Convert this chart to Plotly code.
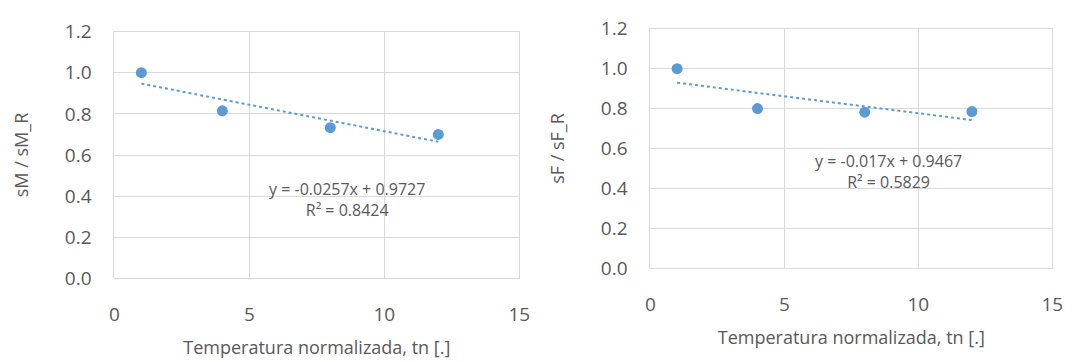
import plotly.graph_objects as go

# Normalised temperature and relative strength ratios
tn = [1, 4, 8, 12]
sm_ratio = [1.0, 0.815, 0.733, 0.700]
sf_ratio = [1.0, 0.800, 0.782, 0.785]

# Linear trend fits (slope, intercept, R²)
sm_fit = (-0.0257, 0.9727, 0.8424)
sf_fit = (-0.017, 0.9467, 0.5829)

x_ticks = [0, 5, 10, 15]
y_ticks = [0.0, 0.2, 0.4, 0.6, 0.8, 1.0, 1.2]

BLUE = "#5b9bd5"
TEXT = "#595959"
GRID = "#d9d9d9"
FONT = "Open Sans"

W, H = 1083, 362

fig = go.Figure()


def add_panel(n, y_vals, fit, ytitle, xdom, ydom, eq_pos):
    xa = "x" if n == 1 else f"x{n}"
    ya = "y" if n == 1 else f"y{n}"
    slope, inter, r2 = fit
    fig.add_trace(go.Scatter(
        x=tn, y=y_vals, mode="markers", xaxis=xa, yaxis=ya,
        marker=dict(color=BLUE, size=11), showlegend=False))
    xs = [tn[0], tn[-1]]
    fig.add_trace(go.Scatter(
        x=xs, y=[slope * v + inter for v in xs], mode="lines",
        xaxis=xa, yaxis=ya,
        line=dict(color=BLUE, width=2, dash="dot"), showlegend=False))
    axis_common = dict(showgrid=True, gridcolor=GRID, gridwidth=1,
                       showline=True, linecolor=GRID, linewidth=1, mirror=True,
                       zeroline=False, ticks="",
                       tickfont=dict(family=FONT, size=19, color=TEXT))
    fig.layout[f"xaxis{'' if n == 1 else n}"] = dict(
        axis_common, domain=xdom, range=[0, 15], tickvals=x_ticks,
        anchor=ya, ticklabelstandoff=19,
        title=dict(text="Temperatura normalizada, tn [.]", standoff=15,
                   font=dict(family=FONT, size=18, color=TEXT)))
    fig.layout[f"yaxis{'' if n == 1 else n}"] = dict(
        axis_common, domain=ydom, range=[0, 1.2], tickvals=y_ticks,
        tickformat=".1f", anchor=xa, ticklabelstandoff=18,
        title=dict(text=ytitle, standoff=31,
                   font=dict(family=FONT, size=18, color=TEXT)))
    eq = f"y = {slope:g}x + {inter:g}<br>R² = {r2:g}"
    fig.add_annotation(x=eq_pos[0], y=eq_pos[1], xref=xa, yref=ya,
                       text=eq, showarrow=False,
                       font=dict(family=FONT, size=16, color=TEXT))


add_panel(1, sm_ratio, sm_fit, "sM / sM_R",
          [111 / W, 522 / W], [1 - 286 / H, 1 - 20 / H], (8.6, 0.385))
add_panel(2, sf_ratio, sf_fit, "sF / sF_R",
          [655 / W, 1063 / W], [1 - 275 / H, 1 - 17 / H], (8.9, 0.485))

fig.update_layout(width=W, height=H, margin=dict(l=0, r=0, t=0, b=0),
                  paper_bgcolor="white", plot_bgcolor="white",
                  font=dict(family=FONT, color=TEXT))

fig.write_html("out.html")
